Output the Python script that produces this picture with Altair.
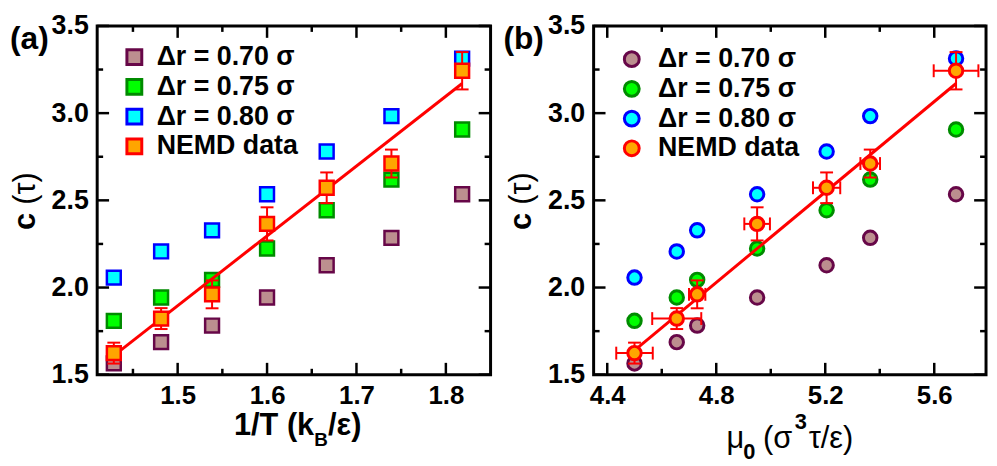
import altair as alt
import pandas as pd

# ---------------- data ----------------
inv_T = [1.4286, 1.4815, 1.5385, 1.6000, 1.6667, 1.7391, 1.8182]
mu0 = [4.500, 4.655, 4.730, 4.950, 5.205, 5.365, 5.680]

c_070 = [1.565, 1.687, 1.782, 1.943, 2.128, 2.285, 2.535]
c_075 = [1.809, 1.943, 2.044, 2.224, 2.443, 2.619, 2.906]
c_080 = [2.057, 2.207, 2.328, 2.535, 2.780, 2.983, 3.313]
c_nemd = [1.624, 1.822, 1.961, 2.365, 2.572, 2.711, 3.243]
c_nemd_err = [0.060, 0.060, 0.080, 0.095, 0.088, 0.080, 0.107]
mu0_err = [0.067, 0.090, 0.030, 0.047, 0.050, 0.036, 0.082]

fit_a_x = [1.4286, 1.8182]
fit_a_y = [1.61, 3.17]
fit_b_x = [4.50, 5.68]
fit_b_y = [1.64, 3.17]

series = ["\u0394r = 0.70 \u03c3", "\u0394r = 0.75 \u03c3", "\u0394r = 0.80 \u03c3", "NEMD data"]
fills = ["#BC8F8F", "#00FF00", "#00FFFF", "#FFA500"]
strokes = ["#670748", "#008B00", "#0000FF", "#FF0000"]

y_major = [1.5, 2.0, 2.5, 3.0, 3.5]
y_minor = [1.75, 2.25, 2.75, 3.25]
xa_major = [1.5, 1.6, 1.7, 1.8]
xa_minor = [1.45, 1.55, 1.65, 1.75]
xb_major = [4.4, 4.8, 5.2, 5.6]
xb_minor = [4.6, 5.0, 5.4]

# ---------------- tables ----------------
rows = []
for name, vals in zip(series[:3], [c_070, c_075, c_080]):
    for i in range(len(vals)):
        rows.append({"invT": inv_T[i], "mu0": mu0[i], "c": vals[i], "series": name})
pts = pd.DataFrame(rows)
nem = pd.DataFrame({
    "invT": inv_T, "mu0": mu0, "c": c_nemd,
    "lo": [c - e for c, e in zip(c_nemd, c_nemd_err)],
    "hi": [c + e for c, e in zip(c_nemd, c_nemd_err)],
    "mlo": [m - e for m, e in zip(mu0, mu0_err)],
    "mhi": [m + e for m, e in zip(mu0, mu0_err)],
    "series": ["NEMD data"] * len(c_nemd),
})

FONT = "Liberation Sans"
H = 352
MAJ, MIN = 12, 6
RED = "#FF0000"


def text_layer(txt, x, y, size, bold=True, baseline="alphabetic", align="left", angle=None):
    kw = dict(font=FONT, fontSize=size, fontWeight="bold" if bold else "normal",
              color="black", align=align, baseline=baseline)
    if angle is not None:
        kw["angle"] = angle
    return alt.Chart(pd.DataFrame({"t": [txt]})).mark_text(**kw).encode(
        text="t:N", x=alt.value(x), y=alt.value(y))


def panel(field, dom, W, major, minor, shape, psize, pstroke, fit_x, fit_y,
          xerr, leg_x, leg_y, leg_off, extra_texts):
    xs = alt.Scale(domain=dom, nice=False, zero=False)
    ys = alt.Scale(domain=[1.5, 3.5], nice=False, zero=False)
    xax = alt.Axis(values=major, format=".1f", ticks=False, tickSize=0, domain=False,
                   grid=False, title=None, labelFont=FONT, labelFontSize=26,
                   labelFontWeight="bold", labelColor="black", labelPadding=8)
    yax = alt.Axis(values=y_major, format=".1f", ticks=False, tickSize=0, domain=False,
                   grid=False, title=None, labelFont=FONT, labelFontSize=27,
                   labelFontWeight="bold", labelColor="black", labelPadding=9)

    def X(f):
        return alt.X(f, type="quantitative", scale=xs, axis=xax)

    def Y(f):
        return alt.Y(f, type="quantitative", scale=ys, axis=yax)

    leg = alt.Legend(orient="none", legendX=leg_x, legendY=leg_y, title=None,
                     symbolType=shape, symbolSize=225, symbolStrokeWidth=3,
                     symbolOpacity=1, labelFont=FONT, labelFontSize=27,
                     labelFontWeight="bold", labelColor="black", labelOffset=leg_off,
                     rowPadding=2, padding=0, labelLimit=400)
    fill = alt.Fill("series:N", scale=alt.Scale(domain=series, range=fills), legend=leg)
    stroke = alt.Stroke("series:N", scale=alt.Scale(domain=series, range=strokes), legend=leg)

    xt_maj = pd.DataFrame({"v": major})
    xt_min = pd.DataFrame({"v": minor})
    yt_maj = pd.DataFrame({"v": y_major})
    yt_min = pd.DataFrame({"v": y_minor})
    tick = dict(color="black", strokeWidth=2.5)

    layers = []
    for df, L in [(xt_maj, MAJ), (xt_min, MIN)]:
        layers.append(alt.Chart(df).mark_rule(**tick).encode(x=X("v"), y=alt.value(H), y2=alt.value(H - L)))
        layers.append(alt.Chart(df).mark_rule(**tick).encode(x=X("v"), y=alt.value(0), y2=alt.value(L)))
    for df, L in [(yt_maj, MAJ), (yt_min, MIN)]:
        layers.append(alt.Chart(df).mark_rule(**tick).encode(y=Y("v"), x=alt.value(0), x2=alt.value(L)))
        layers.append(alt.Chart(df).mark_rule(**tick).encode(y=Y("v"), x=alt.value(W), x2=alt.value(W - L)))

    layers.append(alt.Chart(pts).mark_point(shape=shape, filled=True, size=psize,
                                            strokeWidth=pstroke, opacity=1).encode(
        x=X(field), y=Y("c"), fill=fill, stroke=stroke))

    fit = pd.DataFrame({"x": fit_x, "y": fit_y})
    layers.append(alt.Chart(fit).mark_line(color=RED, strokeWidth=3).encode(x=X("x"), y=Y("y")))

    layers.append(alt.Chart(nem).mark_rule(color=RED, strokeWidth=2).encode(x=X(field), y=Y("lo"), y2=alt.Y2("hi")))
    for f in ["lo", "hi"]:
        layers.append(alt.Chart(nem).mark_tick(color=RED, orient="horizontal", size=13,
                                               thickness=2, opacity=1).encode(x=X(field), y=Y(f)))
    if xerr:
        layers.append(alt.Chart(nem).mark_rule(color=RED, strokeWidth=2).encode(x=X("mlo"), x2=alt.X2("mhi"), y=Y("c")))
        for f in ["mlo", "mhi"]:
            layers.append(alt.Chart(nem).mark_tick(color=RED, orient="vertical", size=13,
                                                   thickness=2, opacity=1).encode(x=X(f), y=Y("c")))

    layers.append(alt.Chart(nem).mark_point(shape=shape, filled=True, size=psize,
                                            strokeWidth=pstroke, opacity=1).encode(
        x=X(field), y=Y("c"), fill=fill, stroke=stroke))

    layers.append(text_layer("c", -63, H / 2 + 30, 31, bold=True, angle=270))
    layers.append(text_layer("(\u03c4)", -63, H / 2 + 4.5, 31, bold=False, angle=270))
    layers.extend(extra_texts)

    return alt.layer(*layers).properties(width=W, height=H)


left_texts = [
    text_layer("(a)", -88, -2, 32, bold=True, baseline="top"),
    text_layer("1/T (k", 219, H + 61, 31, bold=True, align="right"),
    text_layer("B", 219, H + 72, 19, bold=True),
    text_layer("/\u03b5)", 233, H + 61, 31, bold=True),
]
right_texts = [
    text_layer("(b)", -91, -2, 32, bold=True, baseline="top"),
    text_layer("\u03bc", 134, H + 74, 31, bold=False),
    text_layer("0", 151, H + 85, 22, bold=True),
    text_layer("(\u03c3", 171, H + 74, 31, bold=False),
    text_layer("3", 203, H + 55, 22, bold=True),
    text_layer("\u03c4/\u03b5)", 217, H + 74, 31, bold=False),
]

left = panel("invT", [1.41, 1.85], 397, xa_major, xa_minor, "square", 196, 2.5,
             fit_a_x, fit_a_y, False, 24, 18, 9, left_texts)
right = panel("mu0", [4.35, 5.79], 396, xb_major, xb_minor, "circle", 185, 3,
              fit_b_x, fit_b_y, True, 25, 20, 13, right_texts)

chart = alt.hconcat(left, right, spacing=8).resolve_scale(
    x="independent", fill="independent", stroke="independent"
).resolve_legend(
    fill="independent", stroke="independent"
).properties(padding=0, background="white").configure_view(
    stroke="black", strokeWidth=3
)

chart.save("out.html", embed_options={"renderer": "svg", "actions": False})
